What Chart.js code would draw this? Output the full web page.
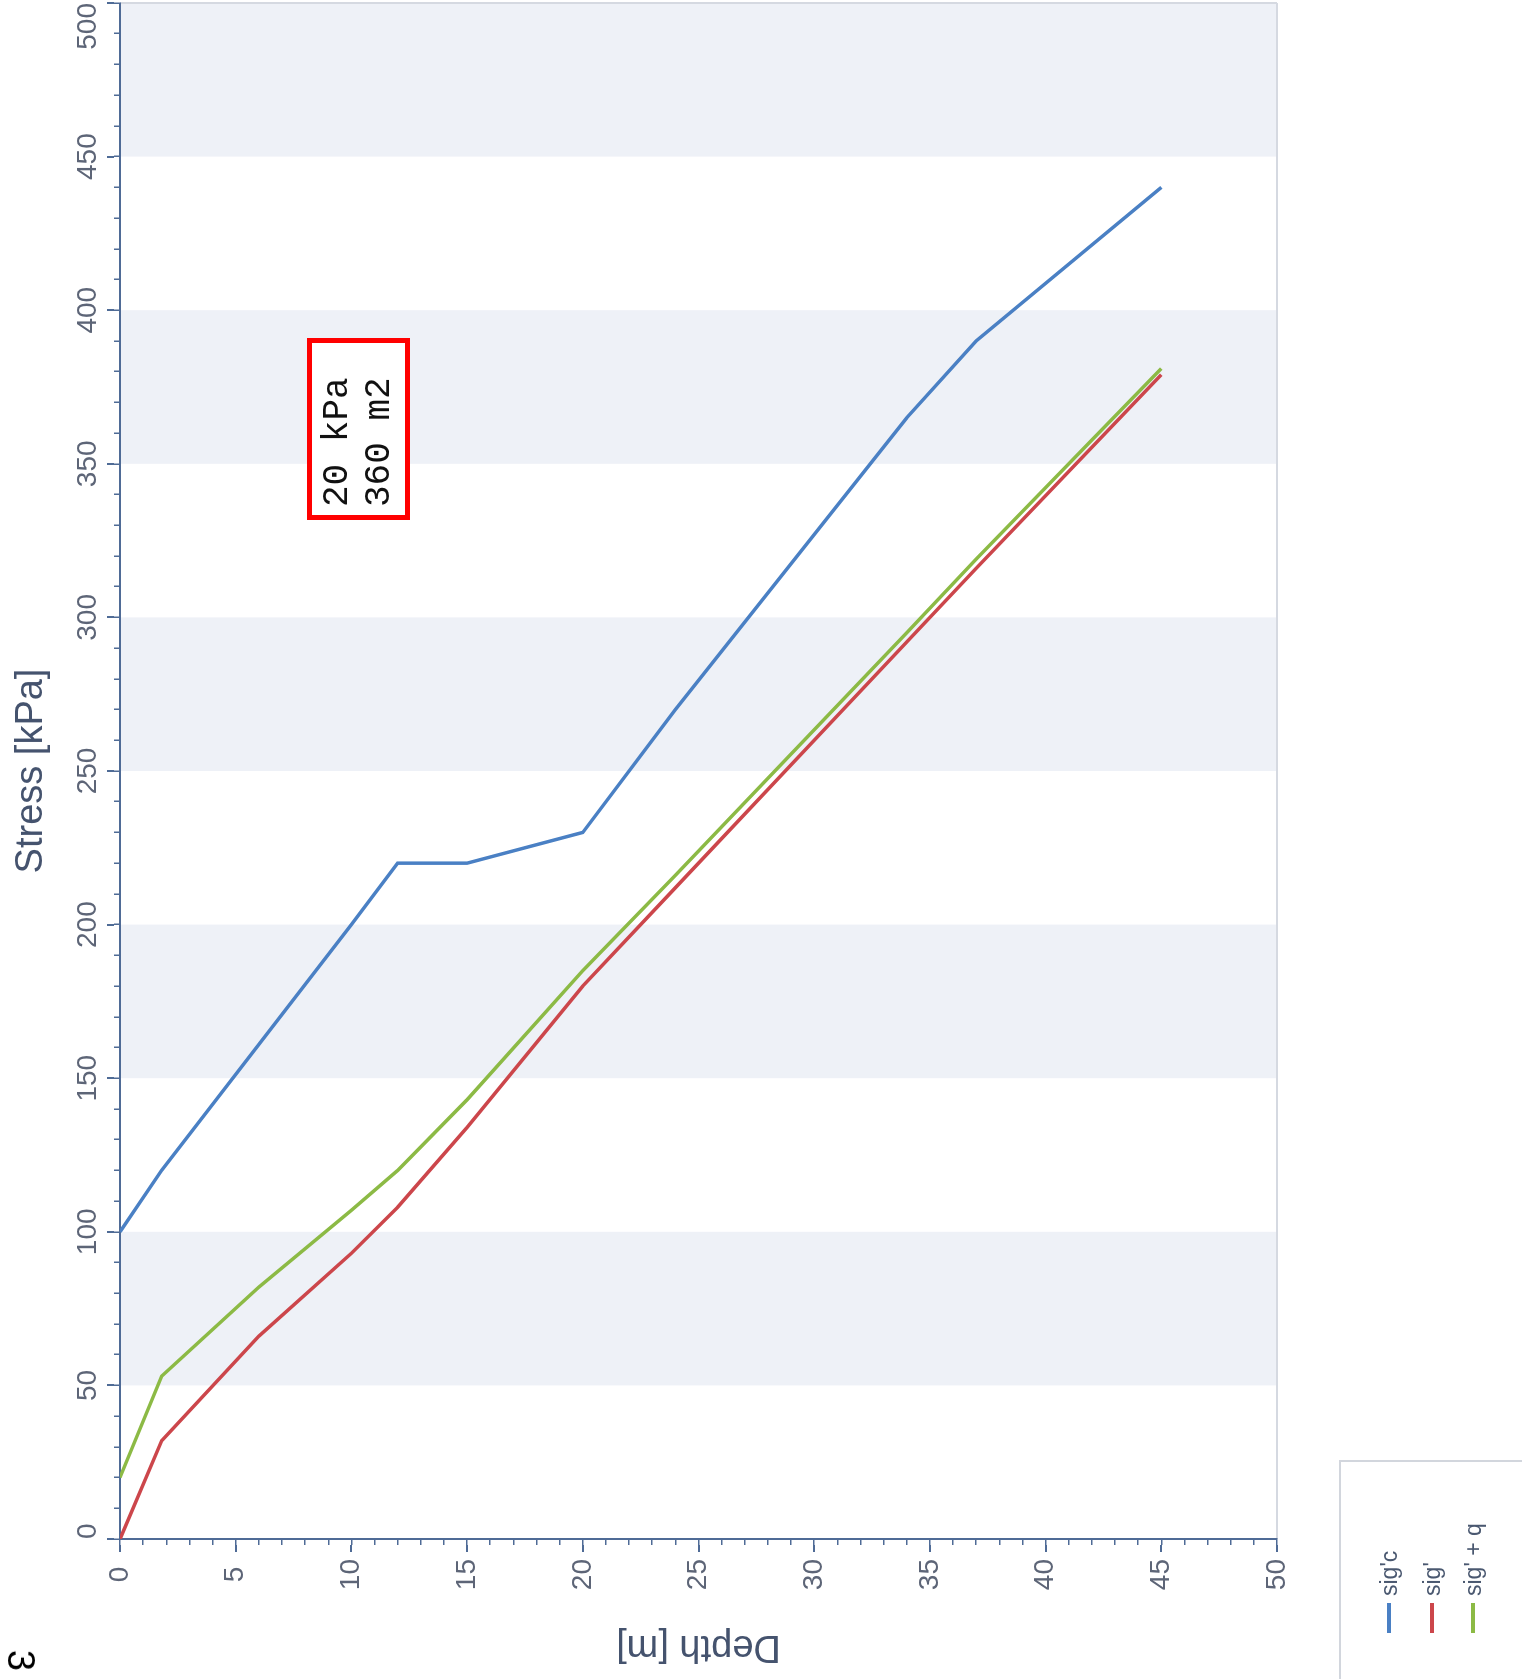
<!DOCTYPE html>
<html>
<head>
<meta charset="utf-8">
<title>Stress vs Depth</title>
<script src="https://cdn.jsdelivr.net/npm/chart.js@4.4.1/dist/chart.umd.min.js"></script>
<style>
html,body{margin:0;padding:0;background:#fff;overflow:hidden;width:1522px;height:1679px;}
#rot{position:absolute;left:0;top:0;width:1679px;height:1522px;transform-origin:0 0;transform:translate(0px,1679px) rotate(-90deg);background:#fff;}
#c{position:absolute;left:0;top:0;}
#legend{position:absolute;left:-6px;top:1339px;width:225px;height:200px;border:2px solid #d2d6dd;box-sizing:border-box;background:#fff;}
.item{position:absolute;left:50px;height:30px;display:flex;align-items:center;font:23px 'Liberation Sans',Arial,sans-serif;color:#4a5870;white-space:pre;}
.sym{width:30px;height:4px;margin-right:7px;}
#note{position:absolute;left:1159px;top:307px;width:182px;height:103px;box-sizing:border-box;border:5px solid #ff0000;background:#fff;padding:5px 0 0 8px;font:36px 'Liberation Mono',monospace;line-height:42px;color:#111;white-space:pre;}
#fig{position:absolute;left:8px;top:2px;font:38px 'Liberation Sans',Arial,sans-serif;line-height:38px;color:#000;transform:rotate(180deg);}
</style>
</head>
<body>
<div id="rot">
  <canvas id="c" width="1679" height="1522"></canvas>
  <div id="legend"></div>
  <div id="note"></div>
  <div id="fig"></div>
</div>
<script>
// ---- data ----
const depths = [0, 1.8, 6, 10, 12, 15, 20, 24, 34, 37, 45];
const sigC   = [100, 120, 161, 200, 220, 220, 230, 270, 365, 390, 440];
const sig    = [0, 32, 66, 93, 108, 134, 180, 212, 292, 316, 379];
const sigQ   = [20, 53, 82, 107, 120, 143, 185, 216, 295, 319, 381];
const seriesNames = ["sig'c", "sig'", "sig' + q"];
const stressTitle = 'Stress [kPa]';
const depthTitle = 'Depth [m]';
const bandStarts = [50, 150, 250, 350, 450];
const bandWidth = 50;
const noteLines = ['20 kPa', '360 m2'];
const figLabel = '3';

// ---- styles ----
const F = "'Liberation Sans', Arial, sans-serif";
const AXIS = '#4f6b96';
const LABEL = '#5d6577';
const TITLE = '#45536e';
const BAND = '#eef1f7';
const BORDER = '#d5d9e1';
const COLORS = ['#4a80c4', '#cc464b', '#8cba45'];

const bandPlugin = {
  id: 'bands',
  beforeDraw(chart) {
    const {ctx, chartArea: a, scales: {x}} = chart;
    ctx.save();
    ctx.fillStyle = BAND;
    bandStarts.forEach(s => {
      const x0 = x.getPixelForValue(s), x1 = x.getPixelForValue(s + bandWidth);
      ctx.fillRect(x0, a.top, x1 - x0, a.bottom - a.top);
    });
    ctx.restore();
  }
};

const mk = (arr) => depths.map((d, i) => ({x: arr[i], y: d}));
const series = [sigC, sig, sigQ];

const chart = new Chart(document.getElementById('c'), {
  type: 'scatter',
  data: {
    datasets: series.map((arr, i) => ({
      label: seriesNames[i],
      data: mk(arr),
      showLine: true,
      borderColor: COLORS[i],
      backgroundColor: COLORS[i],
      borderWidth: 3.5,
      pointRadius: 0,
      tension: 0,
      order: 2 - i
    }))
  },
  options: {
    responsive: false,
    animation: false,
    devicePixelRatio: 1,
    layout: {padding: {left: 0, top: 0, right: 3, bottom: 245}},
    plugins: {legend: {display: false}, tooltip: {enabled: false}},
    scales: {
      x: {
        type: 'linear', position: 'top', min: 0, max: 500, weight: 1,
        ticks: {stepSize: 50, font: {size: 28, family: F}, color: LABEL, padding: 2, align: 'inner', maxRotation: 0, autoSkip: false},
        grid: {drawOnChartArea: true, color: c => (c.tick && c.tick.value === 500) ? BORDER : 'rgba(0,0,0,0)', lineWidth: 2, tickColor: AXIS, tickLength: 7, tickWidth: 2},
        border: {display: false},
        title: {display: true, text: stressTitle, font: {size: 38, family: F}, color: TITLE, padding: {top: 9, bottom: 0}},
        afterFit: s => { s.height = 114; }
      },
      xm: {
        type: 'linear', position: 'top', min: 0, max: 500, weight: 0,
        ticks: {stepSize: 10, display: false},
        grid: {drawOnChartArea: false, color: AXIS, tickLength: 6, lineWidth: 1.5},
        border: {display: true, color: AXIS, width: 2},
        afterFit: s => { s.height = 6; }
      },
      y: {
        type: 'linear', position: 'left', reverse: true, min: 0, max: 50, weight: 1,
        ticks: {stepSize: 5, font: {size: 28, family: F}, color: LABEL, padding: 7, crossAlign: 'center', autoSkip: false},
        grid: {drawOnChartArea: true, color: c => (c.tick && c.tick.value === 50) ? BORDER : 'rgba(0,0,0,0)', lineWidth: 2, tickColor: AXIS, tickLength: 7, tickWidth: 2},
        border: {display: false},
        title: {display: true, text: depthTitle, font: {size: 38, family: F}, color: TITLE, padding: {top: 10, bottom: 0}},
        afterFit: s => { s.width = 134; }
      },
      ym: {
        type: 'linear', position: 'left', reverse: true, min: 0, max: 50, weight: 0,
        ticks: {stepSize: 1, display: false},
        grid: {drawOnChartArea: false, color: AXIS, tickLength: 6, lineWidth: 1.5},
        border: {display: true, color: AXIS, width: 2},
        afterFit: s => { s.width = 6; }
      }
    }
  },
  plugins: [bandPlugin]
});

// HTML legend built from the chart's datasets
const leg = document.getElementById('legend');
const rowTops = [33, 76, 117];
chart.data.datasets.forEach((ds, i) => {
  const it = document.createElement('div');
  it.className = 'item';
  it.style.top = rowTops[i] + 'px';
  const sym = document.createElement('span');
  sym.className = 'sym';
  sym.style.background = ds.borderColor;
  const tx = document.createElement('span');
  tx.textContent = ds.label;
  it.appendChild(sym); it.appendChild(tx);
  leg.appendChild(it);
});
document.getElementById('note').textContent = noteLines.join('\n');
document.getElementById('fig').textContent = figLabel;
</script>
</body>
</html>
